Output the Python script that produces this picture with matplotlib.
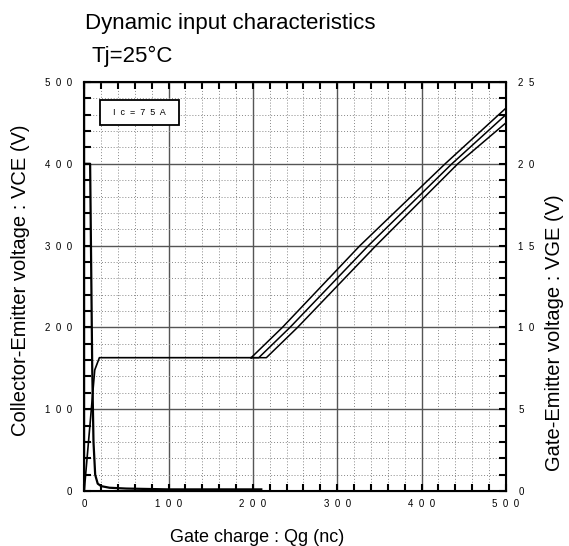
import numpy as np
import matplotlib
matplotlib.use("Agg")
import matplotlib.pyplot as plt
from matplotlib.patches import Rectangle
from matplotlib.ticker import MultipleLocator

plt.rcParams['font.family'] = ['Liberation Sans', 'DejaVu Sans']

# gate charge (nc) vs collector-emitter voltage (V), left axis
qg_vce = [0, 7, 8.5, 9.5, 11, 13, 16, 20, 30, 50, 100, 210]
vce = [400, 400, 250, 150, 60, 20, 9, 6, 4, 3, 2, 2]

# common part of gate-emitter voltage curve (V), right axis
qg_vge_common = [0, 12.5, 18, 198]
vge_common = [0, 7.4, 8.15, 8.15]

# three branches of the rising part
qg_branches = [
    [198, 235, 327, 428, 500],
    [198, 207, 244, 337, 436, 500],
    [198, 216, 253, 346, 443, 500],
]
vge_branches = [
    [8.15, 10.0, 15.0, 20.0, 23.4],
    [8.15, 8.15, 10.0, 15.0, 20.0, 23.0],
    [8.15, 8.15, 10.0, 15.0, 20.0, 22.5],
]

x_ticks = [0, 100, 200, 300, 400, 500]
vce_ticks = [0, 100, 200, 300, 400, 500]
vge_ticks = [0, 5, 10, 15, 20, 25]


def spaced(v):
    return "  ".join(str(v))


fig = plt.figure(figsize=(5.69, 5.46), dpi=100)
ax = fig.add_axes([0.148, 0.1007, 0.741, 0.7491])
ax.set_xlim(0, 500)
ax.set_ylim(0, 500)

ax.xaxis.set_major_locator(MultipleLocator(100))
ax.xaxis.set_minor_locator(MultipleLocator(20))
ax.yaxis.set_major_locator(MultipleLocator(100))
ax.yaxis.set_minor_locator(MultipleLocator(20))
ax.grid(which='major', color='#555555', lw=1.0, ls='-')
ax.grid(which='minor', color='#888888', lw=0.7, ls=(0, (1, 2)))
ax.set_axisbelow(True)

ax.set_xticks(x_ticks)
ax.set_xticklabels([spaced(v) for v in x_ticks], fontsize=7)
ax.set_yticks(vce_ticks)
ax.set_yticklabels([spaced(v) for v in vce_ticks], fontsize=7)
ax.tick_params(which='both', direction='in', top=True, right=False,
               length=5, width=1.5, color='black')
ax.tick_params(axis='y', pad=9)
ax.tick_params(axis='x', pad=6)
for s in ax.spines.values():
    s.set_linewidth(1.5)

ax.plot(qg_vce, vce, color='black', lw=1.6)

ax2 = ax.twinx()
ax2.set_ylim(0, 25)
ax2.set_yticks(vge_ticks)
ax2.set_yticklabels([spaced(v) for v in vge_ticks], fontsize=7)
ax2.yaxis.set_minor_locator(MultipleLocator(1))
ax2.tick_params(which='both', direction='in', length=5, width=1.5,
                color='black', pad=9)

ax2.plot(qg_vge_common, vge_common, color='black', lw=1.2)
for q, v in zip(qg_branches, vge_branches):
    ax2.plot(q, v, color='black', lw=1.1)

# current condition box
ax.add_patch(Rectangle((0.037, 0.895), 0.188, 0.061, transform=ax.transAxes,
                       fc='white', ec='black', lw=1.3, zorder=5))
ax.text(0.131, 0.9255, "I  c  =  7  5  A", transform=ax.transAxes,
        fontsize=6.5, va='center', ha='center', zorder=6)

fig.text(85 / 569, 1 - 29 / 546, "Dynamic input characteristics",
         fontsize=16, va='baseline', ha='left')
fig.text(92 / 569, 1 - 62 / 546, "Tj=25°C", fontsize=16,
         va='baseline', ha='left')
fig.text(257 / 569, 1 - 537 / 546, "Gate charge : Qg (nc)",
         fontsize=13, va='center', ha='center')
fig.text(21 / 569, 1 - 280 / 546, "Collector-Emitter voltage : VCE (V)",
         fontsize=14.5, va='center', ha='center', rotation=90)
fig.text(555 / 569, 1 - 333 / 546, "Gate-Emitter voltage : VGE (V)",
         fontsize=14.5, va='center', ha='center', rotation=90)

fig.savefig("out.png", dpi=100)
